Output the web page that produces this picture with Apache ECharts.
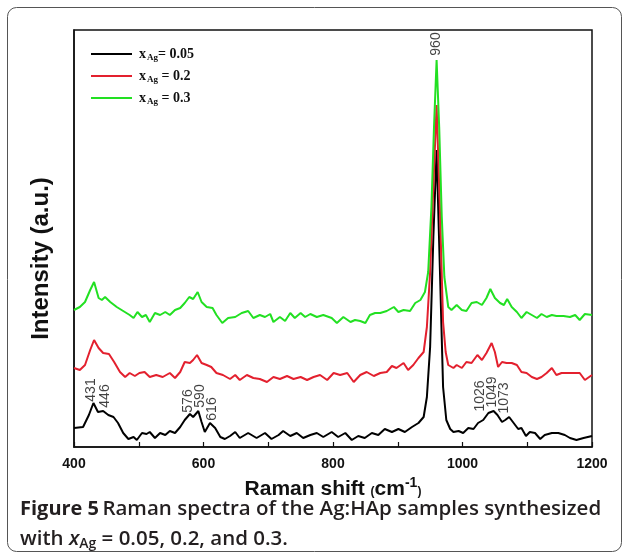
<!DOCTYPE html>
<html>
<head>
<meta charset="utf-8">
<script src="https://cdn.jsdelivr.net/npm/echarts@6/dist/echarts.min.js"></script>
<style>
  html, body { margin: 0; padding: 0; background: #fff; }
  #chart { width: 629px; height: 560px; }
</style>
</head>
<body>
<div id="chart"></div>
<script>
// Raman spectra, intensity in arbitrary units (curves already offset as in the figure)
const blackShift = [400, 414, 423, 430, 437, 445, 453, 461, 468, 476, 484, 492, 497, 505, 512, 517, 525, 533, 541, 548, 556, 564, 571, 579, 584, 592, 597, 602, 610, 618, 626, 633, 641, 649, 656, 669, 682, 695, 705, 716, 723, 734, 744, 754, 765, 775, 785, 798, 808, 819, 829, 839, 849, 860, 870, 880, 891, 901, 911, 922, 932, 940, 945, 950, 955, 960, 965, 970, 975, 981, 986, 994, 1001, 1009, 1017, 1024, 1032, 1040, 1048, 1054, 1061, 1066, 1072, 1079, 1086, 1091, 1098, 1104, 1112, 1120, 1127, 1138, 1148, 1158, 1166, 1176, 1187, 1200];
const blackInt = [19, 20, 32, 44, 35, 36, 32, 30, 24, 14, 8, 10, 7, 14, 13, 15, 9, 14, 12, 16, 14, 20, 27, 33, 30, 36, 25, 15, 24, 19, 10, 8, 11, 15, 9, 14, 9, 14, 8, 12, 16, 11, 14, 9, 12, 14, 10, 15, 10, 14, 7, 11, 9, 14, 12, 18, 15, 18, 15, 20, 24, 30, 50, 100, 210, 297, 180, 60, 27, 18, 15, 16, 14, 19, 18, 24, 27, 34, 36, 32, 25, 27, 30, 24, 18, 19, 11, 15, 14, 8, 12, 14, 14, 12, 9, 7, 9, 11];

const redShift = [400, 409, 417, 425, 431, 438, 445, 454, 462, 471, 479, 486, 494, 501, 509, 517, 527, 537, 548, 556, 564, 571, 579, 584, 590, 597, 605, 612, 620, 630, 641, 649, 656, 667, 677, 687, 698, 708, 718, 729, 739, 750, 760, 770, 780, 791, 801, 811, 822, 832, 842, 852, 863, 873, 883, 891, 898, 909, 916, 924, 932, 940, 945, 950, 955, 960, 965, 970, 974, 978, 986, 991, 999, 1006, 1014, 1023, 1030, 1037, 1045, 1050, 1055, 1061, 1068, 1076, 1084, 1091, 1099, 1107, 1115, 1122, 1130, 1138, 1145, 1153, 1163, 1171, 1181, 1189, 1200];
const redInt = [79, 77, 82, 97, 107, 99, 94, 93, 85, 75, 70, 74, 71, 74, 75, 70, 72, 70, 74, 69, 75, 85, 84, 87, 92, 84, 82, 80, 74, 72, 68, 72, 67, 72, 69, 68, 65, 70, 68, 71, 68, 70, 67, 70, 72, 67, 74, 72, 74, 65, 72, 75, 71, 74, 75, 81, 79, 84, 77, 82, 89, 95, 120, 175, 260, 342, 240, 125, 95, 82, 79, 82, 79, 85, 84, 92, 87, 94, 104, 95, 80, 85, 84, 84, 82, 75, 74, 70, 68, 70, 74, 79, 72, 74, 74, 74, 74, 67, 72];

const greenShift = [400, 409, 417, 425, 431, 438, 443, 448, 456, 466, 476, 486, 492, 498, 505, 511, 517, 525, 533, 541, 548, 556, 564, 571, 578, 584, 591, 597, 605, 614, 620, 629, 638, 649, 659, 669, 677, 687, 695, 703, 708, 718, 726, 734, 741, 750, 757, 765, 775, 785, 798, 806, 816, 827, 834, 842, 850, 857, 865, 873, 883, 894, 901, 909, 919, 927, 935, 942, 947, 952, 956, 960, 964, 968, 972, 978, 983, 991, 999, 1006, 1014, 1022, 1030, 1037, 1043, 1050, 1058, 1064, 1069, 1076, 1084, 1091, 1099, 1107, 1115, 1122, 1130, 1138, 1145, 1156, 1166, 1174, 1181, 1189, 1200];
const greenInt = [137, 140, 145, 157, 165, 149, 147, 150, 145, 140, 136, 132, 129, 135, 130, 132, 125, 134, 132, 135, 132, 137, 139, 144, 150, 148, 155, 145, 140, 139, 132, 124, 129, 130, 134, 136, 129, 132, 130, 133, 125, 130, 126, 134, 129, 134, 130, 133, 130, 132, 129, 124, 130, 125, 127, 126, 124, 132, 134, 134, 136, 140, 135, 137, 136, 144, 147, 155, 175, 240, 320, 387, 320, 230, 170, 140, 137, 142, 137, 136, 144, 145, 142, 149, 158, 149, 144, 142, 148, 140, 135, 129, 135, 132, 129, 133, 130, 132, 131, 131, 130, 132, 127, 133, 132];

// peak annotations (text, x and y where the rotated label sits)
const peakNames = ['431', '446', '576', '590', '616', '960', '1026', '1049', '1073'];
const peakLabelX = [426, 448, 576, 595, 613, 960, 1027, 1046, 1064];
const peakLabelY = [57, 51, 46, 51, 38, 403, 51, 55, 49];

const legendText = {
  s005: '{x|x}{s|Ag}{e|= 0.05}',
  s02: '{x|x}{s|Ag}{e| = 0.2}',
  s03: '{x|x}{s|Ag}{e| = 0.3}',
};

function zip(a, b) {
  return a.map((v, i) => [v, b[i]]);
}

const chart = echarts.init(document.getElementById('chart'));

const option = {
  animation: false,
  grid: {
    left: 74, right: 37, top: 30, bottom: 113,
    show: true, borderColor: '#111', borderWidth: 1.5,
  },
  legend: {
    orient: 'vertical',
    left: 91, top: 47, padding: 0,
    icon: 'rect',
    itemWidth: 41, itemHeight: 2, itemGap: 6.5,
    data: ['s005', 's02', 's03'],
    formatter: (name) => legendText[name],
    textStyle: {
      color: '#111',
      padding: [0, 0, 0, 2],
      rich: {
        x: { fontFamily: 'Liberation Serif', fontWeight: 'bold', fontSize: 14, lineHeight: 18 },
        s: { fontFamily: 'Liberation Serif', fontWeight: 'bold', fontSize: 9, padding: [8, 0, 0, 1] },
        e: { fontFamily: 'Liberation Serif', fontWeight: 'bold', fontSize: 14 },
      },
    },
  },
  xAxis: {
    type: 'value',
    min: 400, max: 1200, interval: 100,
    name: '{a|Raman shift }{p|(}{b|cm}{s|-1}{p|)}',
    nameLocation: 'middle',
    nameGap: 26,
    nameTextStyle: {
      color: '#111',
      rich: {
        a: { fontFamily: 'Liberation Sans', fontWeight: 'bold', fontSize: 21 },
        p: { fontFamily: 'Liberation Sans', fontWeight: 'bold', fontSize: 12, padding: [6, 0, 0, 0] },
        b: { fontFamily: 'Liberation Sans', fontWeight: 'bold', fontSize: 21 },
        s: { fontFamily: 'Liberation Sans', fontWeight: 'bold', fontSize: 14, padding: [0, 0, 12, 0] },
      },
    },
    axisLine: { lineStyle: { color: '#111', width: 1.5 } },
    axisTick: { inside: true, length: 5, lineStyle: { color: '#111', width: 1.2 } },
    axisLabel: {
      margin: 10,
      color: '#111',
      fontFamily: 'Liberation Sans', fontWeight: 'bold', fontSize: 14,
      formatter: (v) => (v % 200 === 0 ? String(v) : ''),
    },
    splitLine: { show: false },
  },
  yAxis: {
    type: 'value',
    min: 0, max: 417,
    name: 'Intensity (a.u.)',
    nameLocation: 'middle',
    nameGap: 21,
    nameTextStyle: {
      color: '#111', fontFamily: 'Liberation Sans', fontWeight: 'bold', fontSize: 24,
      padding: [0, 40, 0, 0],
    },
    axisLine: { show: true, lineStyle: { color: '#111', width: 1.5 } },
    axisTick: { show: false },
    axisLabel: { show: false },
    splitLine: { show: false },
  },
  series: [
    {
      name: 's005', type: 'line', symbol: 'none',
      lineStyle: { color: '#000', width: 2 }, itemStyle: { color: '#000' },
      data: zip(blackShift, blackInt),
    },
    {
      name: 's02', type: 'line', symbol: 'none',
      lineStyle: { color: '#e3202e', width: 2 }, itemStyle: { color: '#e3202e' },
      data: zip(redShift, redInt),
    },
    {
      name: 's03', type: 'line', symbol: 'none',
      lineStyle: { color: '#22e022', width: 2 }, itemStyle: { color: '#22e022' },
      data: zip(greenShift, greenInt),
    },
    {
      name: 'peaks', type: 'scatter', symbolSize: 0, silent: true,
      data: peakLabelX.map((x, i) => ({ value: [x, peakLabelY[i]], name: peakNames[i] })),
      label: {
        show: true, position: 'inside', rotate: 90,
        formatter: (p) => p.name,
        color: '#111', fontFamily: 'Liberation Sans', fontSize: 14,
      },
    },
  ],
  graphic: [
    {
      type: 'rect',
      shape: { x: 7.5, y: 7.5, width: 614, height: 544, r: 9 },
      style: { fill: 'none', stroke: '#555', lineWidth: 1 },
      silent: true,
    },
    {
      type: 'text', left: 20, top: 499,
      style: {
        text: '{b|Figure 5} {n|Raman spectra of the Ag:HAp samples synthesized}',
        rich: {
          b: { fontFamily: 'Open Sans', fontWeight: 'bold', fontSize: 20, fill: '#231f20' },
          n: { fontFamily: 'Open Sans', fontWeight: 600, fontSize: 20.5, fill: '#231f20' },
        },
      },
    },
    {
      type: 'text', left: 20, top: 529,
      style: {
        text: '{n|with }{i|x}{s|Ag}{n| = 0.05, 0.2, and 0.3.}',
        rich: {
          n: { fontFamily: 'Open Sans', fontWeight: 600, fontSize: 20.5, fill: '#231f20' },
          i: { fontFamily: 'Open Sans', fontStyle: 'italic', fontWeight: 600, fontSize: 20.5, fill: '#231f20' },
          s: { fontFamily: 'Open Sans', fontWeight: 600, fontSize: 14, fill: '#231f20', padding: [9, 0, 0, 0] },
        },
      },
    },
  ],
};

chart.setOption(option);
</script>
</body>
</html>
